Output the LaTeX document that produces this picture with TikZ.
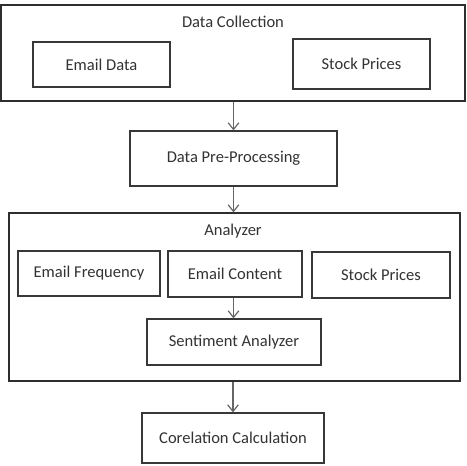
\documentclass[tikz,border=0pt]{standalone}
\usepackage{fontspec}
\setmainfont{Carlito}
\usetikzlibrary{arrows.meta}
\begin{document}
\begin{tikzpicture}[x=0.75pt,y=-0.75pt,
  box/.style={draw=black!78, line width=0.9pt, fill=white, inner sep=0pt, font=\fontsize{12.4}{14}\selectfont, text=black!80},
  frame/.style={draw=black!82, line width=0.9pt, inner sep=0pt},
  title/.style={font=\fontsize{12.4}{14}\selectfont, text=black!80, inner sep=0pt},
  flow/.style={draw=black!60, line width=0.9pt, -{Straight Barb[length=5pt,width=8pt]}}]
\useasboundingbox (0,0) rectangle (467,466);
% Data Collection
\node[frame, minimum width=464*0.75pt, minimum height=96*0.75pt] (dc) at (233,53) {};
\node[title] (dct) at (233,22) {Data Collection};
\node[box, minimum width=137*0.75pt, minimum height=45*0.75pt] (email) at (101.5,64.5) {Email Data};
\node[box, minimum width=137*0.75pt, minimum height=50*0.75pt] (stock1) at (361.5,64) {Stock Prices};
% Pre-processing
\node[box, minimum width=207*0.75pt, minimum height=55*0.75pt] (pre) at (233.5,158.5) {Data Pre-Processing};
% Analyzer
\node[frame, minimum width=451*0.75pt, minimum height=168*0.75pt] (an) at (234.5,297) {};
\node[title] (ant) at (233,231) {Analyzer};
\node[box, minimum width=142*0.75pt, minimum height=45*0.75pt] (freq) at (89,273.5) {Email Frequency};
\node[box, minimum width=134*0.75pt, minimum height=46*0.75pt] (content) at (235,274) {Email Content};
\node[box, minimum width=138*0.75pt, minimum height=46*0.75pt] (stock2) at (381,275) {Stock Prices};
\node[box, minimum width=174*0.75pt, minimum height=46*0.75pt] (sent) at (234,342) {Sentiment Analyzer};
% Correlation
\node[box, minimum width=182*0.75pt, minimum height=50*0.75pt] (corr) at (233,438) {Corelation Calculation};
% arrows
\draw[flow] (dc.south -| pre) -- (pre.north);
\draw[flow] (pre.south) -- (pre.south |- an.north);
\draw[flow] (content.south -| pre) -- (sent.north -| pre);
\draw[flow] (an.south -| corr) -- (corr.north);
\end{tikzpicture}
\end{document}
